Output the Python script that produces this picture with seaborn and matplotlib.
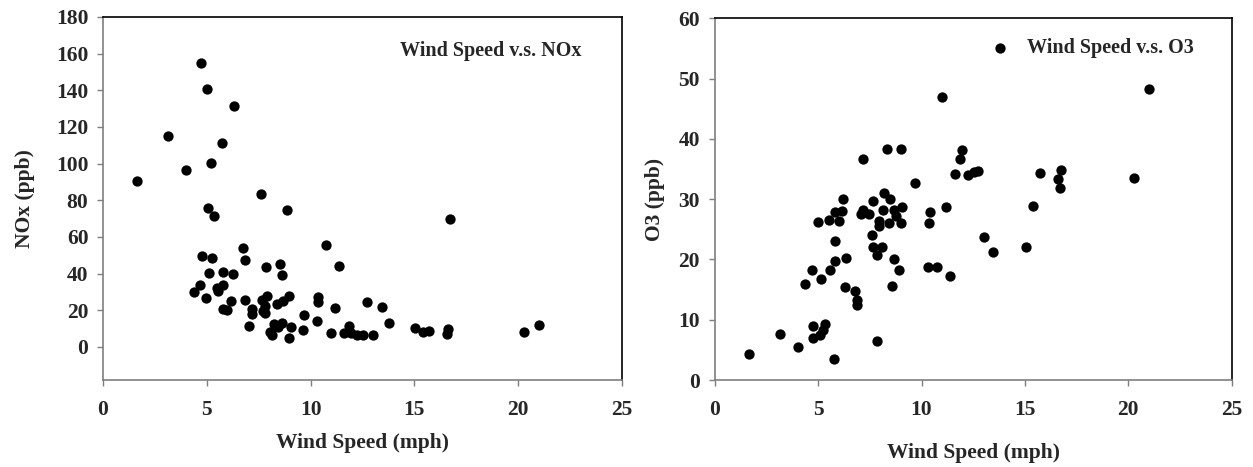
import matplotlib
matplotlib.use("Agg")
import matplotlib.pyplot as plt
import seaborn as sns
import pandas as pd

# Wind speed vs NOx
nox_wind = [4.72, 5.00, 6.31, 3.15, 5.72, 5.19, 3.98, 1.62, 7.60, 5.06, 5.35, 8.88,
            10.74, 11.35, 6.73, 6.83, 4.75, 5.25, 7.85, 8.54, 8.64, 5.11, 5.78, 6.28,
            4.67, 5.77, 5.51, 5.52, 4.37, 4.98, 6.17, 6.85, 5.80, 5.96, 7.67, 7.92,
            7.82, 7.18, 7.19, 7.72, 7.82, 8.38, 8.67, 8.94, 7.05, 8.24, 8.60, 8.45,
            8.04, 8.14, 9.04, 8.97, 9.67, 9.63, 10.37, 10.34, 10.31, 11.18, 10.97,
            11.85, 11.62, 11.93, 12.24, 12.54, 12.99, 12.70, 13.44, 13.76, 15.04,
            15.40, 15.72, 16.63, 16.59, 16.71, 20.28, 21.02]
nox_ppb = [154.8, 140.7, 131.3, 115.3, 111.1, 100.1, 96.3, 90.5, 83.3, 76.0, 71.5, 74.6,
           55.5, 44.3, 54.2, 47.7, 49.9, 48.5, 43.6, 45.4, 39.4, 40.3, 40.9, 39.8,
           33.8, 33.8, 32.2, 30.7, 29.8, 26.5, 24.9, 25.4, 20.8, 20.4, 25.4, 28.0,
           22.6, 20.8, 18.0, 19.8, 18.6, 23.6, 25.1, 28.0, 11.3, 12.4, 13.1, 10.8,
           8.0, 6.4, 11.1, 5.0, 17.7, 9.1, 27.1, 24.3, 14.0, 21.1, 7.7,
           11.7, 7.7, 7.7, 6.8, 6.6, 6.6, 24.3, 21.6, 13.3, 10.6,
           8.0, 8.6, 9.9, 7.0, 70.0, 8.3, 12.2]

# Wind speed vs O3
o3_wind = [11.00, 8.32, 9.01, 7.19, 9.69, 8.17, 8.46, 6.20, 7.65, 11.20, 9.06, 8.12,
           8.66, 6.16, 5.83, 7.19, 7.06, 7.46, 10.41, 8.77, 10.36, 7.93, 7.93, 8.44,
           8.99, 5.01, 5.53, 6.01, 7.62, 5.80, 7.65, 8.09, 7.85, 6.33, 5.80, 8.66,
           8.90, 10.33, 10.76, 11.36, 4.70, 5.56, 5.14, 4.38, 6.32, 6.77, 6.87, 6.88,
           8.59, 4.75, 5.32, 5.25, 5.09, 4.77, 3.17, 4.03, 1.64, 5.75, 7.86,
           21.02, 11.94, 11.86, 11.62, 12.26, 12.55, 12.75, 15.73, 16.75, 16.62,
           16.68, 20.29, 15.41, 13.00, 13.44, 15.07]
o3_ppb = [46.9, 38.4, 38.3, 36.7, 32.7, 31.0, 30.0, 30.0, 29.7, 28.7, 28.7, 28.2,
          28.2, 28.1, 27.9, 28.2, 27.6, 27.6, 27.9, 27.2, 26.1, 26.3, 25.5, 26.0,
          26.0, 26.2, 26.5, 26.3, 24.1, 23.1, 22.0, 22.1, 20.8, 20.3, 19.8, 20.0,
          18.3, 18.8, 18.8, 17.3, 18.3, 18.2, 16.8, 15.9, 15.5, 14.8, 13.2, 12.5,
          15.6, 9.0, 9.3, 8.3, 7.4, 7.0, 7.7, 5.5, 4.3, 3.5, 6.5,
          48.2, 38.1, 36.7, 34.2, 34.0, 34.5, 34.6, 34.4, 34.9, 33.4,
          31.9, 33.5, 28.9, 23.8, 21.3, 22.0]

df_nox = pd.DataFrame({"Wind Speed (mph)": nox_wind, "NOx (ppb)": nox_ppb})
df_o3 = pd.DataFrame({"Wind Speed (mph)": o3_wind, "O3 (ppb)": o3_ppb})

sns.set_theme(style="white")
plt.rcParams['font.family'] = ['Liberation Serif', 'DejaVu Serif']
plt.rcParams['font.weight'] = 'bold'

W, H = 1253, 467
fig = plt.figure(figsize=(W / 100, H / 100), dpi=100)
ax1 = fig.add_axes([103 / W, 1 - 380 / H, 519 / W, 363 / H])
ax2 = fig.add_axes([714.7 / W, 1 - 380 / H, 517 / W, 361.7 / H])

fs = 15.5
lfs = 14.5

def style(ax):
    for side in ["top", "right"]:
        ax.spines[side].set_color("black")
        ax.spines[side].set_linewidth(1.2)
    for side in ["left", "bottom"]:
        ax.spines[side].set_color("#7f7f7f")
        ax.spines[side].set_linewidth(1.2)
    ax.tick_params(axis="both", direction="out", length=4, width=1, color="#7f7f7f",
                   labelsize=fs, left=True, bottom=True)
    ax.tick_params(axis="x", pad=10.5)
    ax.tick_params(axis="y", pad=6.5)
    for lab in ax.get_xticklabels() + ax.get_yticklabels():
        lab.set_fontweight("bold")
    ax.grid(False)

sns.scatterplot(data=df_nox, x="Wind Speed (mph)", y="NOx (ppb)", ax=ax1,
                color="black", s=55, edgecolor="black", linewidth=0,
                label="Wind Speed v.s. NOx")
ax1.set_xlim(0, 25)
ax1.set_ylim(-18, 180)
ax1.set_xticks([0, 5, 10, 15, 20, 25])
ax1.set_yticks(list(range(0, 181, 20)))
ax1.set_xlabel("Wind Speed (mph)", fontsize=fs, fontweight="bold", labelpad=9)
ax1.set_ylabel("NOx (ppb)", fontsize=fs, fontweight="bold", labelpad=15)
style(ax1)
leg1 = ax1.legend(loc="center left", bbox_to_anchor=(0.572, 0.906), frameon=False,
                  handlelength=0, handletextpad=0, borderpad=0, borderaxespad=0,
                  prop={"family": "Liberation Serif", "weight": "bold", "size": lfs})
for h in leg1.legend_handles:
    h.set_visible(False)

sns.scatterplot(data=df_o3, x="Wind Speed (mph)", y="O3 (ppb)", ax=ax2,
                color="black", s=55, edgecolor="black", linewidth=0,
                label="Wind Speed v.s. O3")
ax2.set_xlim(0, 25)
ax2.set_ylim(0, 60)
ax2.set_xticks([0, 5, 10, 15, 20, 25])
ax2.set_yticks(list(range(0, 61, 10)))
ax2.set_xlabel("Wind Speed (mph)", fontsize=fs, fontweight="bold", labelpad=16.5)
ax2.set_ylabel("O3 (ppb)", fontsize=fs, fontweight="bold", labelpad=10)
style(ax2)
ax2.legend(loc="center left", bbox_to_anchor=(0.5325, 0.918), frameon=False,
           handlelength=1.0, handletextpad=0.85, borderpad=0, borderaxespad=0,
           prop={"family": "Liberation Serif", "weight": "bold", "size": lfs})

fig.savefig("out.png", dpi=100)
